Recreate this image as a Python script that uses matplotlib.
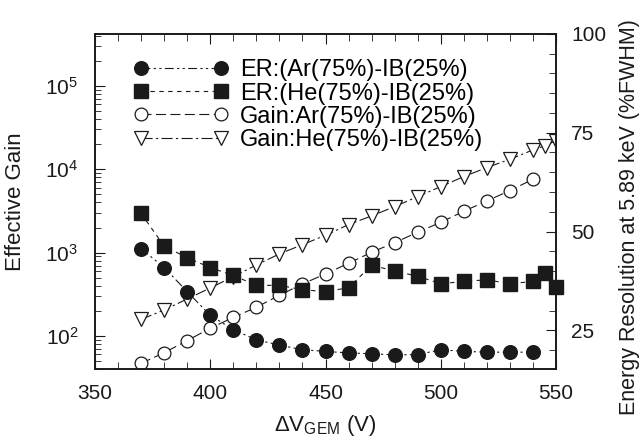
"""Effective gain and energy resolution vs GEM voltage, Ar/He with isobutane."""
import numpy as np, matplotlib
matplotlib.use("Agg")
import matplotlib.pyplot as plt
from matplotlib.ticker import MultipleLocator, LogLocator, NullFormatter

plt.rcParams["font.family"] = ["Liberation Sans", "DejaVu Sans"]
plt.rcParams["mathtext.fontset"] = "custom"
plt.rcParams["mathtext.rm"] = "Liberation Sans"
plt.rcParams["mathtext.it"] = "Liberation Sans"
INK = "#1a1a1a"

# effective gain (left, log)
v_gain_ar = [370, 380, 390, 400, 410, 420, 430, 440, 450, 460, 470, 480, 490,
             500, 510, 520, 530, 540]
gain_ar = [47, 63, 88, 124, 167, 221, 308, 421, 555, 745, 1010, 1318, 1754,
           2312, 3133, 4170, 5546, 7586]
v_gain_he = [370, 380, 390, 400, 410, 420, 430, 440, 450, 460, 470, 480, 490,
             500, 510, 520, 530, 540, 545, 550]
gain_he = [158, 205, 278, 377, 515, 711, 964, 1247, 1614, 2168, 2754, 3565,
           4699, 6194, 8166, 10471, 13183, 17060, 19050, 22080]

# energy resolution (right, %FWHM)
v_er_ar = [370, 380, 390, 400, 410, 420, 430, 440, 450, 460, 470, 480, 490,
           500, 510, 520, 530, 540]
er_ar = [45.7, 40.9, 34.8, 28.8, 25.2, 22.6, 21.3, 20.1, 19.7, 19.3, 19.1,
         18.8, 18.9, 20.1, 19.7, 19.5, 19.5, 19.5]
v_er_he = [370, 380, 390, 400, 410, 420, 430, 440, 450, 460, 470, 480, 490,
           500, 510, 520, 530, 540, 545, 550]
er_he = [54.6, 46.3, 43.4, 40.9, 38.9, 36.4, 36.4, 35.3, 34.8, 35.8, 41.5,
         40.0, 38.7, 36.8, 37.4, 37.8, 36.8, 37.4, 39.4, 36.0]

fig = plt.figure(figsize=(6.44, 4.40), dpi=100)
ax = fig.add_axes([0.1475, 0.161, 0.716, 0.762])
ax2 = ax.twinx()

lw = 0.8
h3, = ax.plot(v_gain_ar, gain_ar, color=INK, lw=lw, dashes=(9, 4),
              marker="o", ms=9.2, mfc="white", mec=INK, mew=0.9,
              label="Gain:Ar(75%)-IB(25%)")
h4, = ax.plot(v_gain_he, gain_he, color=INK, lw=lw, dashes=(10, 3, 2, 3),
              marker="v", ms=9.5, mfc="white", mec=INK, mew=0.9,
              label="Gain:He(75%)-IB(25%)")
h1, = ax2.plot(v_er_ar, er_ar, color=INK, lw=lw, dashes=(8, 3, 2, 3, 2, 3),
               marker="o", ms=9.8, mfc=INK, mec=INK,
               label="ER:(Ar(75%)-IB(25%)")
h2, = ax2.plot(v_er_he, er_he, color=INK, lw=lw, dashes=(4, 4),
               marker="s", ms=10.5, mfc=INK, mec=INK, clip_on=False,
               label="ER:(He(75%)-IB(25%)")

ax.set_xlim(350, 550)
ax.set_yscale("log")
ax.set_ylim(40, 4.2e5)
ax2.set_ylim(15.2, 100)

ax.xaxis.set_major_locator(MultipleLocator(50))
ax.xaxis.set_minor_locator(MultipleLocator(10))
ax.yaxis.set_major_locator(LogLocator(base=10, numticks=10))
ax.yaxis.set_minor_locator(LogLocator(base=10, subs=np.arange(2, 10), numticks=10))
ax.yaxis.set_minor_formatter(NullFormatter())
ax2.yaxis.set_major_locator(MultipleLocator(25))
ax2.yaxis.set_minor_locator(MultipleLocator(5))

ax.tick_params(axis="x", which="both", direction="in", top=True, labelsize=15,
               pad=11, colors=INK)
ax.tick_params(axis="x", which="major", length=7)
ax.tick_params(axis="x", which="minor", length=5)
ax.tick_params(axis="y", which="both", direction="in", right=False,
               labelsize=15, pad=12, colors=INK)
ax.tick_params(axis="y", which="major", length=7)
ax.tick_params(axis="y", which="minor", length=4)
ax2.tick_params(axis="y", which="both", direction="in", labelsize=15,
                pad=11, colors=INK)
ax2.tick_params(axis="y", which="major", length=7)
ax2.tick_params(axis="y", which="minor", length=5)
for a in (ax, ax2):
    for s in a.spines.values():
        s.set_linewidth(1.2); s.set_color(INK)

ax.set_xlabel(r"$\Delta$V$_{\mathrm{GEM}}$ (V)", fontsize=16, color=INK,
              labelpad=7)
ax.set_ylabel("Effective Gain", fontsize=16, color=INK, labelpad=14)
ax2.set_ylabel("Energy Resolution at 5.89 keV (%FWHM)", fontsize=15.5,
               color=INK)
ax2.yaxis.set_label_coords(1.137, 0.455)

leg = ax2.legend(handles=[h1, h2, h3, h4], loc="upper left",
                 bbox_to_anchor=(0.0837, 0.924), numpoints=2, handlelength=4.0,
                 handletextpad=0.5, labelspacing=0.05, fontsize=17,
                 frameon=False, borderaxespad=0, borderpad=0)

fig.savefig("out.png", dpi=100)
